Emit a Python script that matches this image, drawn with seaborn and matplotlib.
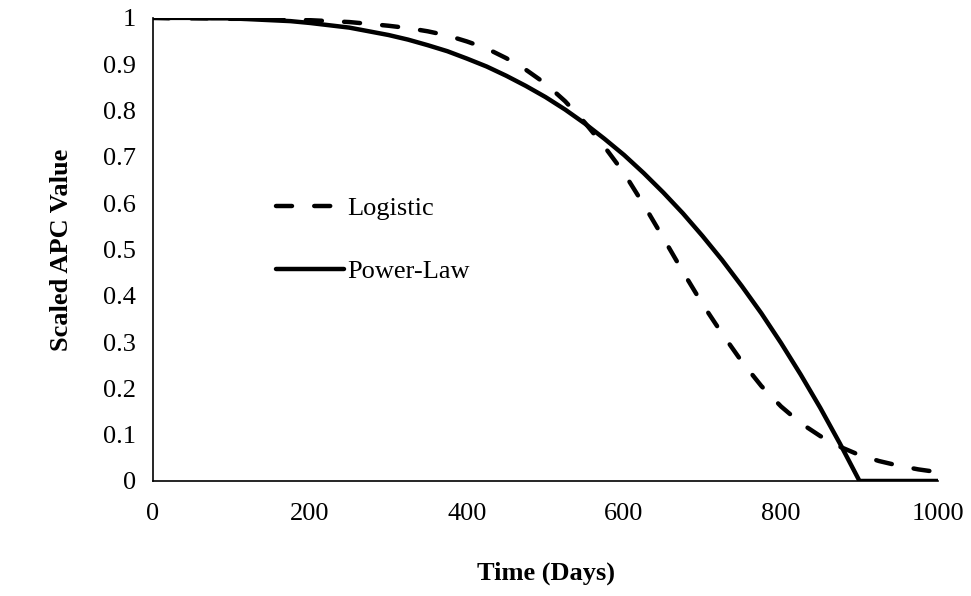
import matplotlib
matplotlib.use("Agg")
import matplotlib.pyplot as plt
import seaborn as sns
import pandas as pd
from matplotlib.ticker import FuncFormatter

# Time axis (days) and scaled APC values for the two decay models
days = [0, 25, 50, 75, 100, 125, 150, 175, 200, 225, 250, 275, 300, 325, 350,
        375, 400, 425, 450, 475, 500, 525, 550, 575, 600, 625, 650, 675, 700,
        725, 750, 775, 800, 825, 850, 875, 900, 925, 950, 975, 1000]

logistic = [1.000, 0.999, 0.999, 0.999, 0.998, 0.998, 0.997, 0.996, 0.995,
            0.993, 0.991, 0.987, 0.983, 0.978, 0.971, 0.962, 0.949, 0.934,
            0.913, 0.888, 0.858, 0.820, 0.774, 0.722, 0.665, 0.597, 0.525,
            0.452, 0.382, 0.318, 0.258, 0.205, 0.161, 0.125, 0.097, 0.074,
            0.056, 0.043, 0.033, 0.025, 0.019]

power_law = [1.000, 1.000, 1.000, 0.999, 0.999, 0.997, 0.995, 0.993, 0.989,
             0.984, 0.979, 0.971, 0.963, 0.953, 0.941, 0.928, 0.912, 0.895,
             0.875, 0.853, 0.829, 0.802, 0.772, 0.739, 0.704, 0.665, 0.623,
             0.578, 0.529, 0.477, 0.421, 0.362, 0.298, 0.230, 0.158, 0.081,
             0.000, 0.000, 0.000, 0.000, 0.000]

x_ticks = [0, 200, 400, 600, 800, 1000]
y_ticks = [0, 0.1, 0.2, 0.3, 0.4, 0.5, 0.6, 0.7, 0.8, 0.9, 1.0]

df = pd.DataFrame({"Time": days, "Logistic": logistic, "Power-Law": power_law})

sns.set_theme(style="white")
plt.rcParams["font.family"] = ["Liberation Serif", "DejaVu Serif"]
plt.rcParams["text.color"] = "black"
plt.rcParams["axes.labelcolor"] = "black"

fig = plt.figure(figsize=(9.71, 5.96), dpi=100)
ax = fig.add_axes([0.1576, 0.193, 0.8084, 0.777])

sns.lineplot(data=df, x="Time", y="Logistic", ax=ax, color="black",
             linewidth=3.2, label="Logistic")
dashed = ax.lines[-1]
dashed.set_linestyle((0, (3.6, 5.0)))
dashed.set_dash_capstyle("round")
sns.lineplot(data=df, x="Time", y="Power-Law", ax=ax, color="black",
             linewidth=3.2, label="Power-Law")

ax.set_xlim(0, 1000)
ax.set_ylim(0, 1)
ax.set_xticks(x_ticks)
ax.set_yticks(y_ticks)
ax.yaxis.set_major_formatter(FuncFormatter(lambda v, p: f"{v:g}"))

for side in ("top", "right"):
    ax.spines[side].set_visible(False)
for side in ("left", "bottom"):
    ax.spines[side].set_color("black")
    ax.spines[side].set_linewidth(1.2)

ax.tick_params(axis="both", direction="out", length=6, width=1.2,
               colors="black", labelcolor="black", labelsize=19, pad=6)
ax.tick_params(axis="x", pad=10)

ax.set_xlabel("Time (Days)", fontsize=19, fontweight="bold", labelpad=26,
              color="black")
ax.set_ylabel("Scaled APC Value", fontsize=19, fontweight="bold", labelpad=22,
              color="black")

leg = ax.legend(loc="upper left", bbox_to_anchor=(0.126, 0.665), frameon=False,
                fontsize=19, handlelength=2.6, handletextpad=0.1,
                labelspacing=1.5)
for t in leg.get_texts():
    t.set_color("black")
leg.get_lines()[0].set_dash_capstyle("round")

fig.savefig("out.png", dpi=100)
